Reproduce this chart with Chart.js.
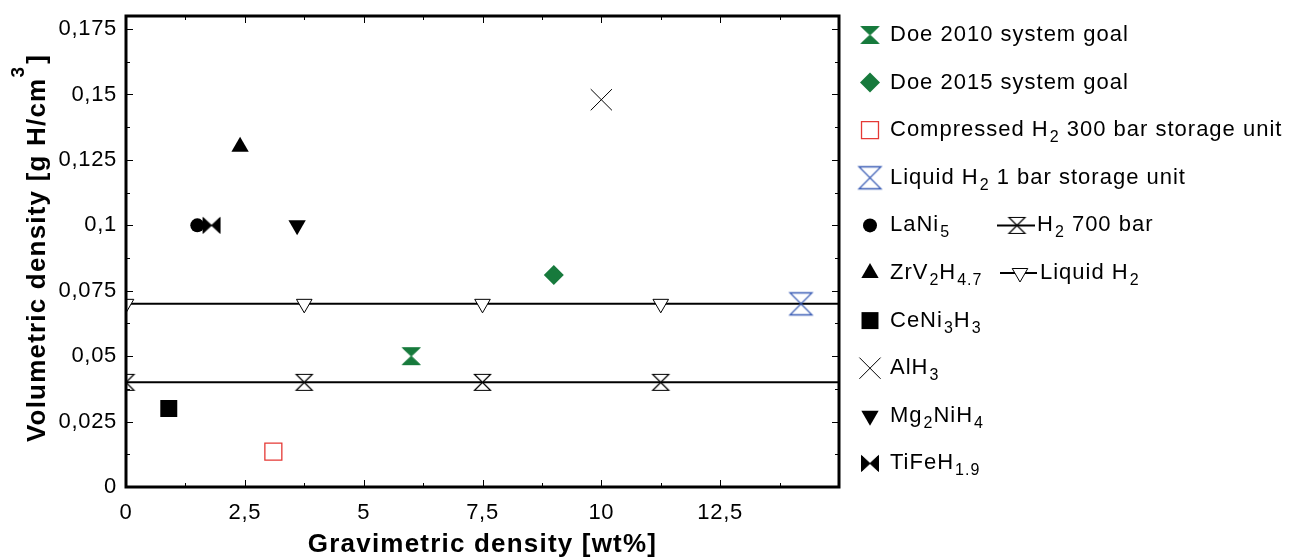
<!DOCTYPE html>
<html>
<head>
<meta charset="utf-8">
<script src="https://cdn.jsdelivr.net/npm/chart.js@4.4.0/dist/chart.umd.min.js"></script>
<style>
  body { margin: 0; background: #fff; }
  #wrap { width: 1301px; height: 559px; }
</style>
</head>
<body>
<div id="wrap"><canvas id="storageChart" width="1301" height="559"></canvas></div>
<script>
// axis ranges and tick labels (decimal comma)
const gravRange = [0, 15];
const volRange = [0, 0.18];
const gravTicks = [0, 2.5, 5, 7.5, 10, 12.5];
const gravTickLabels = ['0', '2,5', '5', '7,5', '10', '12,5'];
const volTicks = [0, 0.025, 0.05, 0.075, 0.1, 0.125, 0.15, 0.175];
const volTickLabels = ['0', '0,025', '0,05', '0,075', '0,1', '0,125', '0,15', '0,175'];

// targets and storage units
const goalNames = ['Doe 2010 system goal', 'Doe 2015 system goal', 'Compressed H_{2} 300 bar storage unit', 'Liquid H_{2} 1 bar storage unit'];
const goalGrav = [6, 9, 3.1, 14.2];
const goalVol = [0.05, 0.081, 0.0135, 0.07];

// metal hydrides
const materialNames = ['LaNi_{5}', 'ZrV_{2}H_{4.7}', 'CeNi_{3}H_{3}', 'AlH_{3}', 'Mg_{2}NiH_{4}', 'TiFeH_{1.9}'];
const materialGrav = [1.5, 2.4, 0.9, 10.0, 3.6, 1.8];
const materialVol = [0.1, 0.13, 0.03, 0.148, 0.1, 0.1];

// reference density lines
const lineNames = ['H_{2} 700 bar', 'Liquid H_{2}'];
const lineGrav = [0, 3.75, 7.5, 11.25, 15];
const h2700Vol = [0.04, 0.04, 0.04, 0.04, 0.04];
const liquidH2Vol = [0.07, 0.07, 0.07, 0.07, 0.07];

const FONT = "'Liberation Sans', Arial, sans-serif";
const GREEN = '#177a3c';
const RED = '#e53935';
const BLUE = '#3a5cb5';

// hourglass / bowtie markers as small canvases
function makeMarker(w, h, fill, stroke, lw, sideways) {
  const pad = 2.5;
  const c = document.createElement('canvas');
  c.width = w + 5;
  c.height = h + 5;
  const g = c.getContext('2d');
  g.beginPath();
  if (sideways) {
    g.moveTo(pad, pad);
    g.lineTo(pad, pad + h);
    g.lineTo(pad + w, pad);
    g.lineTo(pad + w, pad + h);
  } else {
    g.moveTo(pad, pad);
    g.lineTo(pad + w, pad);
    g.lineTo(pad, pad + h);
    g.lineTo(pad + w, pad + h);
  }
  g.closePath();
  if (fill) { g.fillStyle = fill; g.fill(); }
  if (stroke) { g.strokeStyle = stroke; g.lineWidth = lw; g.stroke(); }
  return c;
}

const doe2010Marker = makeMarker(18, 17, GREEN, GREEN, 1, false);
const liquidUnitMarker = makeMarker(22, 22, null, BLUE, 1.3, false);
const h2700Marker = makeMarker(16, 16, '#fff', '#000', 1.2, false);
const tifeMarker = makeMarker(17, 16, '#000', '#000', 1, true);

const goalStyles = [
  { pointStyle: doe2010Marker, radius: 9, bg: GREEN, fg: GREEN, bw: 0 },
  { pointStyle: 'rectRot', radius: 10, bg: GREEN, fg: GREEN, bw: 0 },
  { pointStyle: 'rect', radius: 12, bg: 'rgba(0,0,0,0)', fg: RED, bw: 1.3 },
  { pointStyle: liquidUnitMarker, radius: 11, bg: BLUE, fg: BLUE, bw: 0 }
];
const materialStyles = [
  { pointStyle: 'circle', radius: 7, bg: '#000', fg: '#000', bw: 0 },
  { pointStyle: 'triangle', radius: 10, bg: '#000', fg: '#000', bw: 0 },
  { pointStyle: 'rect', radius: 12, bg: '#000', fg: '#000', bw: 0 },
  { pointStyle: 'crossRot', radius: 15, bg: '#000', fg: '#000', bw: 1 },
  { pointStyle: 'triangle', radius: 10, rotation: 180, bg: '#000', fg: '#000', bw: 0 },
  { pointStyle: tifeMarker, radius: 8, bg: '#000', fg: '#000', bw: 0 }
];

function pointSet(name, xs, ys, st) {
  return {
    label: name,
    data: xs.map((x, i) => ({ x: x, y: ys[i] })),
    pointStyle: st.pointStyle,
    pointRadius: st.radius,
    pointRotation: st.rotation || 0,
    pointBackgroundColor: st.bg,
    pointBorderColor: st.fg,
    pointBorderWidth: st.bw,
    showLine: false,
    order: 1,
    legendStyle: st
  };
}

const goalSets = goalNames.map((n, i) => pointSet(n, [goalGrav[i]], [goalVol[i]], goalStyles[i]));
const materialSets = materialNames.map((n, i) => pointSet(n, [materialGrav[i]], [materialVol[i]], materialStyles[i]));

const lastIdx = lineGrav.length - 1;
const h2700Style = { pointStyle: h2700Marker, radius: 8, bg: '#fff', fg: '#000', bw: 1 };
const liquidStyle = { pointStyle: 'triangle', radius: 9, rotation: 180, bg: '#fff', fg: '#000', bw: 1 };

function lineSet(name, ys, st) {
  return {
    label: name,
    data: lineGrav.map((x, i) => ({ x: x, y: ys[i] })),
    showLine: true,
    borderColor: '#000',
    borderWidth: 2,
    pointStyle: st.pointStyle,
    pointRotation: st.rotation || 0,
    pointRadius: ctx => ctx.dataIndex === lastIdx ? 0 : st.radius,
    pointBackgroundColor: st.bg,
    pointBorderColor: st.fg,
    pointBorderWidth: st.bw,
    order: 2,
    legendStyle: st
  };
}

const h2700Set = lineSet(lineNames[0], h2700Vol, h2700Style);
const liquidSet = lineSet(lineNames[1], liquidH2Vol, liquidStyle);

// text with _{sub} markup
function drawRich(ctx, str, x, y, size, subSize) {
  const parts = str.split(/_\{([^}]*)\}/);
  let cx = x;
  parts.forEach((p, i) => {
    if (!p) return;
    if (i % 2 === 0) {
      ctx.font = size + 'px ' + FONT;
      ctx.fillText(p, cx, y);
      cx += ctx.measureText(p).width;
    } else {
      ctx.font = subSize + 'px ' + FONT;
      ctx.fillText(p, cx + 1, y + 6);
      cx += ctx.measureText(p).width + 1;
    }
  });
}

function drawMarker(ctx, st, x, y) {
  ctx.save();
  ctx.fillStyle = st.bg;
  ctx.strokeStyle = st.fg;
  ctx.lineWidth = st.bw;
  Chart.helpers.drawPoint(ctx, {
    pointStyle: st.pointStyle,
    radius: st.radius,
    rotation: st.rotation || 0,
    borderWidth: st.bw
  }, x, y);
  ctx.restore();
}

// box frame with inward ticks on all four sides
const framePlugin = {
  id: 'frame',
  beforeDraw(chart) {
    chart.ctx.letterSpacing = '0.7px';
  },
  afterDatasetsDraw(chart) {
    const { ctx, chartArea: a, scales: { x, y } } = chart;
    ctx.save();
    ctx.strokeStyle = '#000';
    ctx.lineWidth = 1;
    const major = 7, minor = 4;
    const xStep = gravTicks[1] - gravTicks[0];
    gravTicks.forEach(v => {
      [[v, major], [v + xStep / 2, minor]].forEach(([t, len]) => {
        if (t >= x.max) return;
        const px = Math.round(x.getPixelForValue(t)) + 0.5;
        ctx.beginPath();
        ctx.moveTo(px, a.bottom); ctx.lineTo(px, a.bottom - len);
        ctx.moveTo(px, a.top); ctx.lineTo(px, a.top + len);
        ctx.stroke();
      });
    });
    const yStep = volTicks[1] - volTicks[0];
    volTicks.forEach(v => {
      [[v, major], [v + yStep / 2, minor]].forEach(([t, len]) => {
        if (t >= y.max) return;
        const py = Math.round(y.getPixelForValue(t)) + 0.5;
        ctx.beginPath();
        ctx.moveTo(a.left, py); ctx.lineTo(a.left + len, py);
        ctx.moveTo(a.right, py); ctx.lineTo(a.right - len, py);
        ctx.stroke();
      });
    });
    ctx.lineWidth = 3;
    ctx.strokeRect(a.left, a.top, a.right - a.left, a.bottom - a.top);
    ctx.restore();
  }
};

// axis titles and the two-column legend
const annotatePlugin = {
  id: 'annotate',
  afterDraw(chart) {
    const { ctx, chartArea: a } = chart;
    ctx.save();
    ctx.fillStyle = '#000';
    ctx.letterSpacing = '1.2px';

    // x title
    ctx.font = 'bold 26px ' + FONT;
    ctx.textAlign = 'center';
    ctx.textBaseline = 'alphabetic';
    ctx.fillText('Gravimetric density [wt%]', (a.left + a.right) / 2, 552);

    // y title with superscript
    ctx.textAlign = 'left';
    const main = 'Volumetric density [g H/cm';
    ctx.font = 'bold 26px ' + FONT;
    const wMain = ctx.measureText(main).width;
    const wBr = ctx.measureText(']').width;
    ctx.font = 'bold 19px ' + FONT;
    const wSup = ctx.measureText('3').width;
    const total = wMain + wSup + wBr + 2;
    ctx.translate(45, 248);
    ctx.rotate(-Math.PI / 2);
    let cx = -total / 2;
    ctx.font = 'bold 26px ' + FONT;
    ctx.fillText(main, cx, 0);
    cx += wMain;
    ctx.font = 'bold 19px ' + FONT;
    ctx.fillText('3', cx, -21);
    cx += wSup + 2;
    ctx.font = 'bold 26px ' + FONT;
    ctx.fillText(']', cx, 0);
    ctx.setTransform(1, 0, 0, 1, 0, 0);

    // legend
    ctx.letterSpacing = '1px';
    const rowY0 = 35, rowStep = 47.6;
    const col1 = goalSets.concat(materialSets);
    col1.forEach((ds, i) => {
      const ry = rowY0 + i * rowStep;
      drawMarker(ctx, ds.legendStyle, 870, ry);
      ctx.fillStyle = '#000';
      drawRich(ctx, ds.label, 890, ry + 6, 22, 16);
    });
    [[h2700Set, 997, 1035, 1017, 1037], [liquidSet, 1000, 1037, 1020, 1040]].forEach(([ds, x1, x2, mx, tx], j) => {
      const ry = rowY0 + (4 + j) * rowStep;
      ctx.strokeStyle = '#000';
      ctx.lineWidth = 2;
      ctx.beginPath();
      ctx.moveTo(x1, ry); ctx.lineTo(x2, ry);
      ctx.stroke();
      drawMarker(ctx, ds.legendStyle, mx, ry);
      ctx.fillStyle = '#000';
      drawRich(ctx, ds.label, tx, ry + 6, 22, 16);
    });
    ctx.restore();
  }
};

new Chart(document.getElementById('storageChart'), {
  type: 'scatter',
  data: {
    datasets: goalSets.concat(materialSets, [liquidSet, h2700Set])
  },
  options: {
    responsive: false,
    animation: false,
    layout: { padding: { top: 13, right: 462, bottom: 0, left: 0 } },
    plugins: { legend: { display: false }, tooltip: { enabled: false } },
    scales: {
      x: {
        type: 'linear',
        min: gravRange[0],
        max: gravRange[1],
        grid: { display: false, drawTicks: false },
        border: { display: false },
        afterBuildTicks: s => { s.ticks = gravTicks.map(v => ({ value: v })); },
        afterFit: s => { s.height = 72; s.paddingLeft = 0; s.paddingRight = 0; },
        ticks: {
          padding: 13,
          color: '#000',
          font: { family: FONT, size: 22 },
          callback: (v, i) => gravTickLabels[i]
        }
      },
      y: {
        type: 'linear',
        min: volRange[0],
        max: volRange[1],
        grid: { display: false, drawTicks: false },
        border: { display: false },
        afterBuildTicks: s => { s.ticks = volTicks.map(v => ({ value: v })); },
        afterFit: s => { s.width = 126; s.paddingTop = 0; s.paddingBottom = 0; },
        ticks: {
          padding: 9,
          color: '#000',
          font: { family: FONT, size: 22 },
          callback: (v, i) => volTickLabels[i]
        }
      }
    }
  },
  plugins: [framePlugin, annotatePlugin]
});
</script>
</body>
</html>
